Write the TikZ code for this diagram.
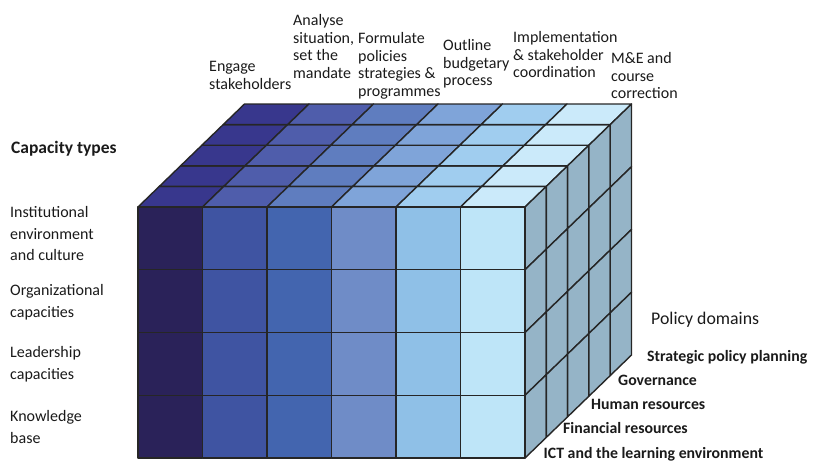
\documentclass[tikz,border=0pt]{standalone}
\usepackage{fontspec}
\setmainfont{Carlito}
\definecolor{F1}{HTML}{2A2259}
\definecolor{F2}{HTML}{3F54A2}
\definecolor{F3}{HTML}{4365AF}
\definecolor{F4}{HTML}{6F8CC7}
\definecolor{F5}{HTML}{8FC0E7}
\definecolor{F6}{HTML}{BEE5F8}
\definecolor{T1}{HTML}{38378D}
\definecolor{T2}{HTML}{4F5DAB}
\definecolor{T3}{HTML}{5F7DBF}
\definecolor{T4}{HTML}{7FA4D9}
\definecolor{T5}{HTML}{A0CDEF}
\definecolor{T6}{HTML}{CBEAFA}
\definecolor{SD}{HTML}{95B4C7}
\definecolor{edgec}{HTML}{262626}
\definecolor{txt}{HTML}{1A1A1A}
\begin{document}
\begin{tikzpicture}[x=1pt,y=-1pt,
  cell/.style={draw=edgec, line width=1.4pt, line join=round},
  toplabel/.style={anchor=north west, inner sep=0pt, align=left, font=\fontsize{16}{17.5}\selectfont, text=txt},
  sidelabel/.style={anchor=north west, inner sep=0pt, align=left, font=\fontsize{16}{21.7}\selectfont, text=txt},
  domlabel/.style={anchor=west, inner sep=0pt, font=\bfseries\fontsize{15.8}{18}\selectfont, text height=0.7em, text depth=0.2em, text=txt},
  headlabel/.style={anchor=west, inner sep=0pt, text height=0.7em, text depth=0.2em, text=txt}]
\useasboundingbox (0,0) rectangle (813,460);
\def\xa{138}\def\ya{207}\def\cw{64.5}\def\rh{62.75}\def\dx{21.3}\def\dy{20.6}
% top face
\foreach \i/\c in {0/T1,1/T2,2/T3,3/T4,4/T5,5/T6}{
  \foreach \k in {0,...,4}{
    \filldraw[cell, fill=\c] ({\xa+\i*\cw+\k*\dx},{\ya-\k*\dy}) -- ++(\cw,0) -- ++(\dx,-\dy) -- ++(-\cw,0) -- cycle;
  }
}
% side face
\foreach \k in {0,...,4}{
  \foreach \j in {0,...,3}{
    \filldraw[cell, fill=SD] ({\xa+6*\cw+\k*\dx},{\ya+\j*\rh-\k*\dy}) -- ++(\dx,-\dy) -- ++(0,\rh) -- ++(-\dx,\dy) -- cycle;
  }
}
% front face
\foreach \i/\c in {0/F1,1/F2,2/F3,3/F4,4/F5,5/F6}{
  \foreach \j in {0,...,3}{
    \filldraw[cell, fill=\c] ({\xa+\i*\cw},{\ya+\j*\rh}) rectangle ++(\cw,\rh);
  }
}
% top labels
\node[toplabel] (l1) at (209,61.5) {Engage\\stakeholders};
\node[toplabel] (l2) at (293,14.5) {Analyse\\situation,\\set the\\mandate};
\node[toplabel] (l3) at (358,32.5) {Formulate\\policies\\strategies \&\\programmes};
\node[toplabel] (l4) at (443,39.5) {Outline\\budgetary\\process};
\node[toplabel] (l5) at (513,31.5) {Implementation\\\& stakeholder\\coordination};
\node[toplabel] (l6) at (611,52.5) {M\&E and\\course\\correction};
% left labels
\node[headlabel, font=\bfseries\fontsize{17.5}{20}\selectfont] (ct) at (11,150.5) {Capacity types};
\node[sidelabel] (r1) at (10,206) {Institutional\\environment\\and culture};
\node[sidelabel] (r2) at (10,284) {Organizational\\capacities};
\node[sidelabel] (r3) at (10,346) {Leadership\\capacities};
\node[sidelabel] (r4) at (10,410.5) {Knowledge\\base};
% policy domains
\node[headlabel, font=\fontsize{17.8}{20}\selectfont] (pd) at (651,322) {Policy domains};
\node[domlabel] (d1) at (647,358.5) {Strategic policy planning};
\node[domlabel] (d2) at (618,382.5) {Governance};
\node[domlabel] (d3) at (591,406.5) {Human resources};
\node[domlabel] (d4) at (563,431) {Financial resources};
\node[domlabel] (d5) at (543.5,455.5) {ICT and the learning environment};
\end{tikzpicture}
\end{document}
